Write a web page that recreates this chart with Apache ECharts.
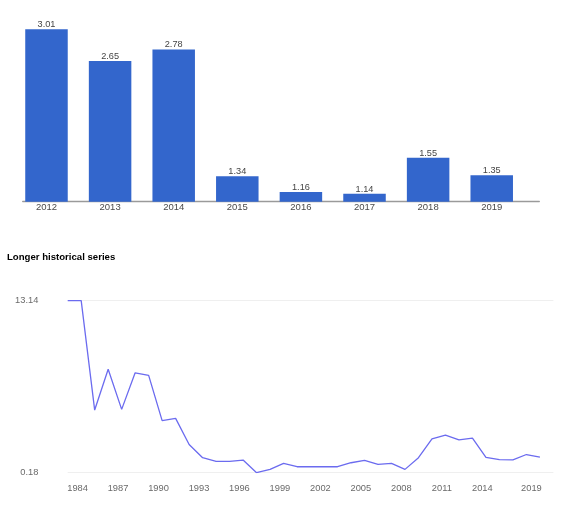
<!DOCTYPE html>
<html>
<head>
<meta charset="utf-8">
<script src="https://cdn.jsdelivr.net/npm/echarts@6.0.0/dist/echarts.min.js"></script>
<style>
  html, body { margin: 0; padding: 0; background: #fff; }
  #main { width: 565px; height: 511px; }
</style>
</head>
<body>
<div id="main"></div>
<script>
// bar chart data
var barYears = [2012, 2013, 2014, 2015, 2016, 2017, 2018, 2019];
var barValues = [3.01, 2.65, 2.78, 1.34, 1.16, 1.14, 1.55, 1.35];

// longer historical series
var histYears = [1984, 1985, 1986, 1987, 1988, 1989, 1990, 1991, 1992, 1993,
  1994, 1995, 1996, 1997, 1998, 1999, 2000, 2001, 2002, 2003,
  2004, 2005, 2006, 2007, 2008, 2009, 2010, 2011, 2012, 2013,
  2014, 2015, 2016, 2017, 2018, 2019];
var histValues = [13.14, 13.14, 4.90, 7.97, 4.95, 7.71, 7.51, 4.10, 4.27, 2.31,
  1.31, 1.03, 1.03, 1.13, 0.18, 0.43, 0.88, 0.63, 0.63, 0.63,
  0.63, 0.93, 1.11, 0.81, 0.88, 0.43, 1.31, 2.72, 3.01, 2.65,
  2.78, 1.34, 1.16, 1.14, 1.55, 1.35];
var histTickLabels = [1984, 1987, 1990, 1993, 1996, 1999, 2002, 2005, 2008, 2011, 2014, 2019];
var histMin = 0.18;
var histMax = 13.14;

var font = 'Liberation Sans, Arial, sans-serif';

// tick labels sit a bit right of the year, last one is pulled inside
var histTickAt = histTickLabels.map(function (y, i) {
  return i === histTickLabels.length - 1 ? y - 0.63 : y + 0.73;
});
var tickText = {};
histTickAt.forEach(function (v, i) {
  tickText[v.toFixed(2)] = String(histTickLabels[i]);
});

var chart = echarts.init(document.getElementById('main'), null, { renderer: 'canvas' });

var option = {
  animation: false,
  title: {
    text: 'Longer historical series',
    left: 7,
    top: 252,
    padding: 0,
    textStyle: { fontFamily: font, fontSize: 9.6, fontWeight: 'bold', color: '#000' }
  },
  grid: [
    { left: 22.7, right: 25.7, top: 12.5, bottom: 309.3 },
    { left: 67.7, right: 11.6, top: 300.7, bottom: 38.3 }
  ],
  xAxis: [
    {
      gridIndex: 0,
      type: 'value',
      min: 2011.626,
      max: 2019.748,
      axisLine: { show: true, onZero: false, lineStyle: { color: '#9a9a9a', width: 1.3 } },
      axisTick: { show: false },
      splitLine: { show: false },
      axisLabel: {
        customValues: barYears,
        margin: 1,
        color: '#4a4a4a',
        fontFamily: font,
        fontSize: 9.5,
        formatter: function (v) { return String(v); }
      }
    },
    {
      gridIndex: 1,
      type: 'value',
      min: 1984,
      max: 2020,
      axisLine: { show: false },
      axisTick: { show: false },
      splitLine: { show: false },
      axisLabel: {
        customValues: histTickAt,
        margin: 11,
        color: '#6a6a6a',
        fontFamily: font,
        fontSize: 9.3,
        formatter: function (v) { return tickText[v.toFixed(2)] || ''; }
      }
    }
  ],
  yAxis: [
    {
      gridIndex: 0,
      type: 'value',
      min: 1.05,
      max: 3.2,
      show: false
    },
    {
      gridIndex: 1,
      type: 'value',
      min: histMin,
      max: histMax,
      interval: histMax - histMin,
      axisLine: { show: false },
      axisTick: { show: false },
      splitLine: { lineStyle: { color: '#efefef', width: 1 } },
      axisLabel: {
        margin: 29.4,
        color: '#6a6a6a',
        fontFamily: font,
        fontSize: 9.3,
        formatter: function (v) { return v.toFixed(2); }
      }
    }
  ],
  series: [
    {
      type: 'bar',
      xAxisIndex: 0,
      yAxisIndex: 0,
      barWidth: 42.5,
      data: barYears.map(function (y, i) { return [y, barValues[i]]; }),
      itemStyle: { color: '#3366cc' },
      label: {
        show: true,
        position: 'top',
        distance: 0,
        color: '#444',
        fontFamily: font,
        fontSize: 9.2,
        formatter: function (p) { return p.value[1].toFixed(2); }
      }
    },
    {
      type: 'line',
      xAxisIndex: 1,
      yAxisIndex: 1,
      symbol: 'none',
      data: histYears.map(function (y, i) { return [y, histValues[i]]; }),
      lineStyle: { color: '#6b6bef', width: 1.3 }
    }
  ]
};

option && chart.setOption(option);
window.onresize = function () {
  chart.resize();
};
</script>
</body>
</html>
